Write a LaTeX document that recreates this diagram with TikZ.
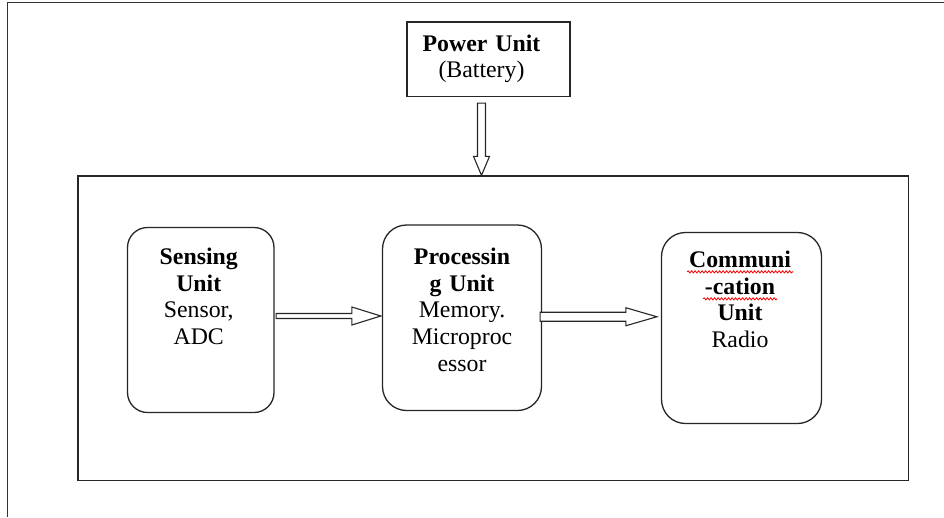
\documentclass[tikz,border=0pt]{standalone}
\usepackage{fontspec}
\setmainfont{Liberation Serif}
\usetikzlibrary{calc,decorations.pathmorphing}
\begin{document}
\begin{tikzpicture}[x=1pt,y=-1pt,
  frame/.style={draw=black!80, line width=1.4pt},
  ubox/.style={draw=black!85, line width=1.3pt, rounded corners=20pt, inner sep=0pt, fill=white},
  pbox/.style={draw=black!85, line width=1.3pt, inner sep=0pt, fill=white},
  txt/.style={text width=160pt, align=center, inner sep=0pt, anchor=base, font=\fontsize{23.8}{26.8}\selectfont},
  fat/.style={draw=black!85, line width=1.1pt, fill=white, line join=miter},
  spell/.style={draw=red, line width=0.8pt, decorate, decoration={snake, segment length=3.5pt, amplitude=1.1pt}}]
\useasboundingbox (0,0) rectangle (944,517);
\draw[frame] (944,2.5) -- (7.5,2.5) -- (7.5,517);

\node[pbox, minimum width=163pt, minimum height=74.5pt] (pw) at (488.5,59.25) {};
\node[pbox, minimum width=830.5pt, minimum height=304.5pt] (sys) at (493.25,328.25) {};
\node[ubox, minimum width=146.5pt, minimum height=185pt] (sens) at (200.75,320) {};
\node[ubox, minimum width=159pt, minimum height=185.5pt, rounded corners=24pt] (proc) at (462,317.75) {};
\node[ubox, minimum width=160pt, minimum height=191pt, rounded corners=24pt] (comm) at (741.5,328) {};

\node[txt] (pwt) at ($(pw.north)+(-7,29.7)$) {\textbf{Power Unit}\\(Battery)};
\node[txt] (senst) at ($(sens.north)+(-2,37.5)$) {\textbf{Sensing}\\\textbf{Unit}\\Sensor,\\ADC};
\node[txt] (proct) at ($(proc.north)+(0,40)$) {\textbf{Processin}\\\textbf{g Unit}\\Memory.\\Microproc\\essor};
\node[txt] (commt) at ($(comm.north)+(-1.5,35.5)$) {\textbf{Communi}\\\textbf{-cation}\\\textbf{Unit}\\Radio};

% spell-check underlines
\draw[spell] ($(commt.base)+(-53,4.5)$) coordinate (w1a) -- ($(commt.base)+(53,4.5)$) coordinate (w1b);
\draw[spell] ($(commt.base)+(-37,31.5)$) coordinate (w2a) -- ($(commt.base)+(37,31.5)$) coordinate (w2b);

% power arrow
\draw[fat] let \p1=($(pw.south)+(-7,6)$), \p2=(sys.north) in
  (\x1-4pt,\y1) -- (\x1+4pt,\y1) -- (\x1+4pt,\y2+19pt) -- (\x1+8pt,\y2+19pt)
  -- (\x1,\y2) -- (\x1-8pt,\y2+19pt) -- (\x1-4pt,\y2+19pt) -- cycle;
% sensing -> processing
\draw[fat] let \p1=($(sens.east)+(1.5,-4)$), \p2=(proc.west) in
  (\x1,\y1+2.5pt) -- (\x2-30pt,\y1+2.5pt) -- (\x2-30pt,\y1+9pt) -- (\x2-1pt,\y1)
  -- (\x2-30pt,\y1-9pt) -- (\x2-30pt,\y1-2.5pt) -- (\x1,\y1-2.5pt) -- cycle;
% processing -> communication
\draw[fat] let \p1=($(proc.east)+(-2,-1)$), \p2=(comm.west) in
  (\x1,\y1+4.5pt) -- (\x2-35pt,\y1+4.5pt) -- (\x2-35pt,\y1+9pt) -- (\x2-4pt,\y1)
  -- (\x2-35pt,\y1-9pt) -- (\x2-35pt,\y1-4.5pt) -- (\x1,\y1-4.5pt) -- cycle;
\end{tikzpicture}
\end{document}
